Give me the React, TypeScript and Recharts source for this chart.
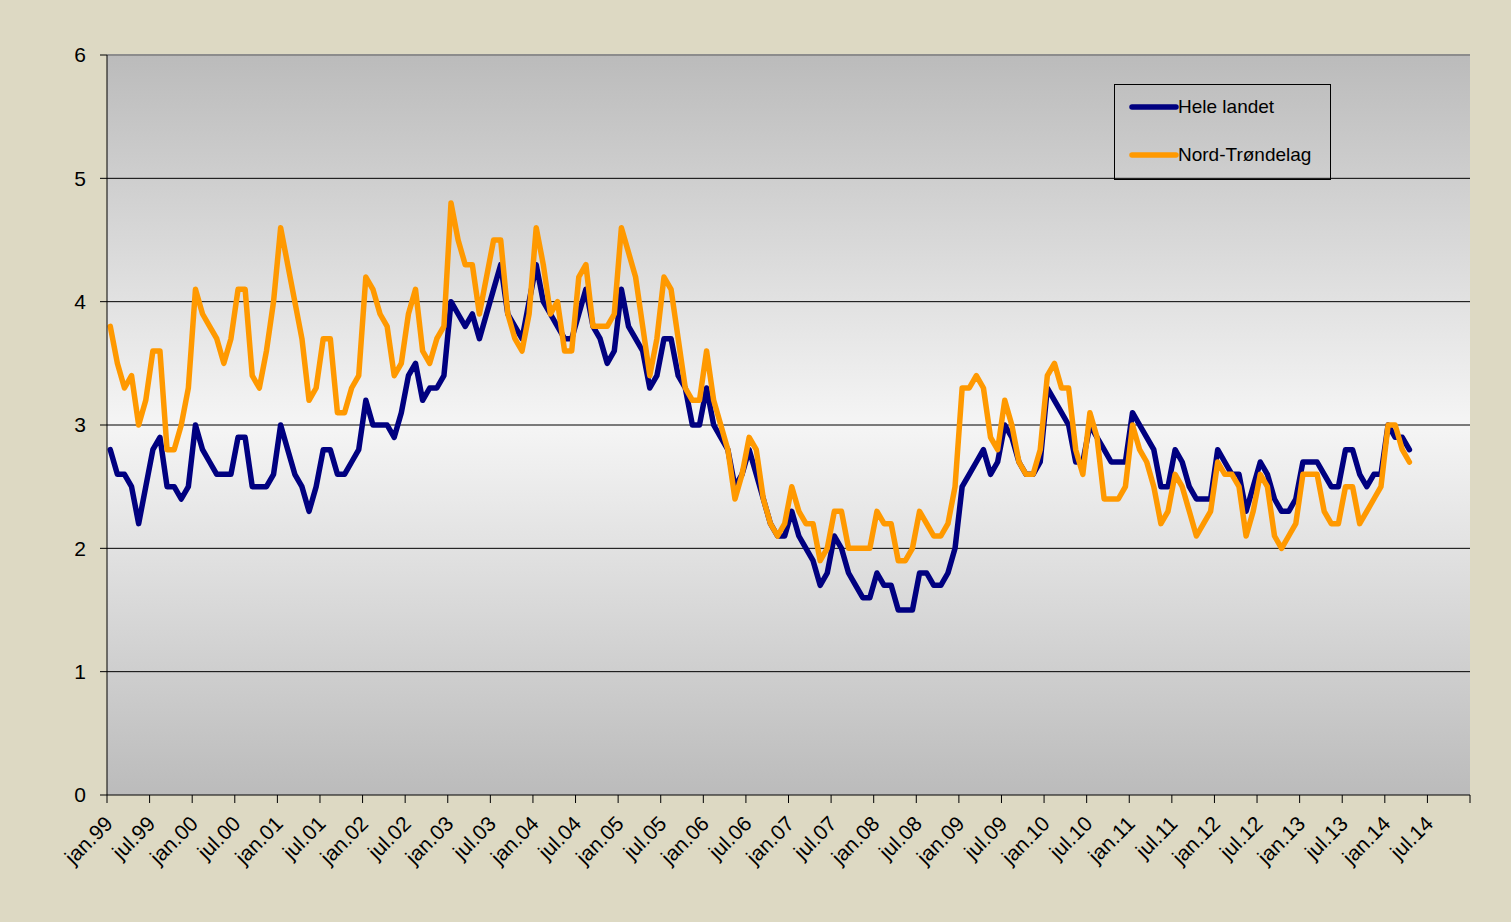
import React from 'react';
import { LineChart, Line, XAxis, YAxis, CartesianGrid, Legend, ReferenceLine } from 'recharts';

// Monthly values, jan.99 .. apr.14
const heleLandet = [
  2.8, 2.6, 2.6, 2.5, 2.2, 2.5, 2.8, 2.9, 2.5, 2.5, 2.4, 2.5,
  3.0, 2.8, 2.7, 2.6, 2.6, 2.6, 2.9, 2.9, 2.5, 2.5, 2.5, 2.6,
  3.0, 2.8, 2.6, 2.5, 2.3, 2.5, 2.8, 2.8, 2.6, 2.6, 2.7, 2.8,
  3.2, 3.0, 3.0, 3.0, 2.9, 3.1, 3.4, 3.5, 3.2, 3.3, 3.3, 3.4,
  4.0, 3.9, 3.8, 3.9, 3.7, 3.9, 4.1, 4.3, 3.9, 3.8, 3.7, 4.0,
  4.3, 4.0, 3.9, 3.8, 3.7, 3.7, 3.9, 4.1, 3.8, 3.7, 3.5, 3.6,
  4.1, 3.8, 3.7, 3.6, 3.3, 3.4, 3.7, 3.7, 3.4, 3.3, 3.0, 3.0,
  3.3, 3.0, 2.9, 2.8, 2.5, 2.6, 2.8, 2.6, 2.4, 2.2, 2.1, 2.1,
  2.3, 2.1, 2.0, 1.9, 1.7, 1.8, 2.1, 2.0, 1.8, 1.7, 1.6, 1.6,
  1.8, 1.7, 1.7, 1.5, 1.5, 1.5, 1.8, 1.8, 1.7, 1.7, 1.8, 2.0,
  2.5, 2.6, 2.7, 2.8, 2.6, 2.7, 3.0, 2.9, 2.7, 2.6, 2.6, 2.7,
  3.3, 3.2, 3.1, 3.0, 2.7, 2.7, 3.0, 2.9, 2.8, 2.7, 2.7, 2.7,
  3.1, 3.0, 2.9, 2.8, 2.5, 2.5, 2.8, 2.7, 2.5, 2.4, 2.4, 2.4,
  2.8, 2.7, 2.6, 2.6, 2.3, 2.5, 2.7, 2.6, 2.4, 2.3, 2.3, 2.4,
  2.7, 2.7, 2.7, 2.6, 2.5, 2.5, 2.8, 2.8, 2.6, 2.5, 2.6, 2.6,
  3.0, 2.9, 2.9, 2.8,
];

const nordTrondelag = [
  3.8, 3.5, 3.3, 3.4, 3.0, 3.2, 3.6, 3.6, 2.8, 2.8, 3.0, 3.3,
  4.1, 3.9, 3.8, 3.7, 3.5, 3.7, 4.1, 4.1, 3.4, 3.3, 3.6, 4.0,
  4.6, 4.3, 4.0, 3.7, 3.2, 3.3, 3.7, 3.7, 3.1, 3.1, 3.3, 3.4,
  4.2, 4.1, 3.9, 3.8, 3.4, 3.5, 3.9, 4.1, 3.6, 3.5, 3.7, 3.8,
  4.8, 4.5, 4.3, 4.3, 3.9, 4.2, 4.5, 4.5, 3.9, 3.7, 3.6, 3.9,
  4.6, 4.3, 3.9, 4.0, 3.6, 3.6, 4.2, 4.3, 3.8, 3.8, 3.8, 3.9,
  4.6, 4.4, 4.2, 3.8, 3.4, 3.7, 4.2, 4.1, 3.7, 3.3, 3.2, 3.2,
  3.6, 3.2, 3.0, 2.8, 2.4, 2.6, 2.9, 2.8, 2.4, 2.2, 2.1, 2.2,
  2.5, 2.3, 2.2, 2.2, 1.9, 2.0, 2.3, 2.3, 2.0, 2.0, 2.0, 2.0,
  2.3, 2.2, 2.2, 1.9, 1.9, 2.0, 2.3, 2.2, 2.1, 2.1, 2.2, 2.5,
  3.3, 3.3, 3.4, 3.3, 2.9, 2.8, 3.2, 3.0, 2.7, 2.6, 2.6, 2.8,
  3.4, 3.5, 3.3, 3.3, 2.8, 2.6, 3.1, 2.9, 2.4, 2.4, 2.4, 2.5,
  3.0, 2.8, 2.7, 2.5, 2.2, 2.3, 2.6, 2.5, 2.3, 2.1, 2.2, 2.3,
  2.7, 2.6, 2.6, 2.5, 2.1, 2.3, 2.6, 2.5, 2.1, 2.0, 2.1, 2.2,
  2.6, 2.6, 2.6, 2.3, 2.2, 2.2, 2.5, 2.5, 2.2, 2.3, 2.4, 2.5,
  3.0, 3.0, 2.8, 2.7,
];

const xTicks = [0, 6, 12, 18, 24, 30, 36, 42, 48, 54, 60, 66, 72, 78, 84, 90, 96, 102, 108, 114, 120, 126, 132, 138, 144, 150, 156, 162, 168, 174, 180, 186, 192];
const xTickLabels = [
  'jan.99', 'jul.99', 'jan.00', 'jul.00', 'jan.01', 'jul.01', 'jan.02', 'jul.02',
  'jan.03', 'jul.03', 'jan.04', 'jul.04', 'jan.05', 'jul.05', 'jan.06', 'jul.06',
  'jan.07', 'jul.07', 'jan.08', 'jul.08', 'jan.09', 'jul.09', 'jan.10', 'jul.10',
  'jan.11', 'jul.11', 'jan.12', 'jul.12', 'jan.13', 'jul.13', 'jan.14', 'jul.14', '',
];
const yTicks = [0, 1, 2, 3, 4, 5, 6];
const gridValues = [1, 2, 3, 4, 5];
const seriesNames = ['Hele landet', 'Nord-Trøndelag'];
const seriesKeys = ['hele', 'nord'];
const seriesColors = ['#000080', '#FF9900'];

const MID_MONTH = 0.46;
const data = heleLandet.map((v, i) => ({ x: i + MID_MONTH, hele: v, nord: nordTrondelag[i] }));

const FONT = '"Liberation Sans", Arial, sans-serif';

const XTick = (props: any) => {
  const { x, payload } = props;
  const idx = xTicks.indexOf(payload.value);
  const label = idx >= 0 ? xTickLabels[idx] : '';
  return (
    <g transform={`translate(${x + 7},${825})`}>
      <text x={0} y={0} textAnchor="end" transform="rotate(-45)" fontSize={21} fontFamily={FONT} fill="#000">
        {label}
      </text>
    </g>
  );
};

const LegendBox = () => (
  <div
    style={{
      width: 217,
      height: 96,
      border: '1px solid #000',
      boxSizing: 'border-box',
      position: 'relative',
      fontFamily: FONT,
      fontSize: 19,
      color: '#000',
    }}
  >
    {seriesNames.map((n, k) => (
      <React.Fragment key={n}>
        <svg style={{ position: 'absolute', left: 14, top: 17 + k * 48 }} width={50} height={10}>
          <line x1={3} y1={5} x2={47} y2={5} stroke={seriesColors[k]} strokeWidth={5.5} strokeLinecap="round" />
        </svg>
        <span style={{ position: 'absolute', left: 63, top: 11 + k * 48, lineHeight: '22px', whiteSpace: 'nowrap' }}>{n}</span>
      </React.Fragment>
    ))}
  </div>
);

export default function App() {
  return (
    <div style={{ position: 'fixed', left: 0, top: 0, width: 1511, height: 922, background: '#DDD9C3' }}>
      <LineChart width={1511} height={922} data={data} margin={{ top: 55, right: 41, bottom: 0, left: 0 }}>
        <defs>
          <linearGradient id="plotBg" x1="0" y1="0" x2="0" y2="1">
            <stop offset="0%" stopColor="#BBBBBB" />
            <stop offset="50%" stopColor="#F5F5F5" />
            <stop offset="100%" stopColor="#BBBBBB" />
          </linearGradient>
        </defs>
        <CartesianGrid horizontal={false} vertical={false} fill="url(#plotBg)" fillOpacity={1} />
        <XAxis
          type="number"
          dataKey="x"
          domain={[0, 192]}
          ticks={xTicks}
          interval={0}
          height={127}
          tickSize={8}
          axisLine={{ stroke: '#000', strokeWidth: 1 }}
          tickLine={{ stroke: '#000' }}
          tick={<XTick />}
          allowDataOverflow
        />
        <YAxis
          type="number"
          domain={[0, 6]}
          ticks={yTicks}
          interval={0}
          width={107}
          tickSize={7}
          tickMargin={14}
          axisLine={{ stroke: '#000', strokeWidth: 1 }}
          tickLine={{ stroke: '#000' }}
          tick={{ fontSize: 21, fill: '#000', fontFamily: FONT }}
        />
        {gridValues.map((v) => (
          <ReferenceLine key={v} y={v} stroke="#000" strokeWidth={1} />
        ))}
        <ReferenceLine y={6} stroke="#8C8C8C" strokeWidth={2} />
        <Legend
          layout="horizontal"
          verticalAlign="middle"
          align="center"
          wrapperStyle={{ top: 84, left: 1114, width: 217, height: 96 }}
          content={<LegendBox />}
        />
        {seriesKeys.map((k, j) => (
          <Line
            key={k}
            type="linear"
            dataKey={k}
            name={seriesNames[j]}
            stroke={seriesColors[j]}
            strokeWidth={5.5}
            strokeLinejoin="round"
            strokeLinecap="round"
            dot={false}
            activeDot={false}
            isAnimationActive={false}
          />
        ))}
      </LineChart>
    </div>
  );
}
